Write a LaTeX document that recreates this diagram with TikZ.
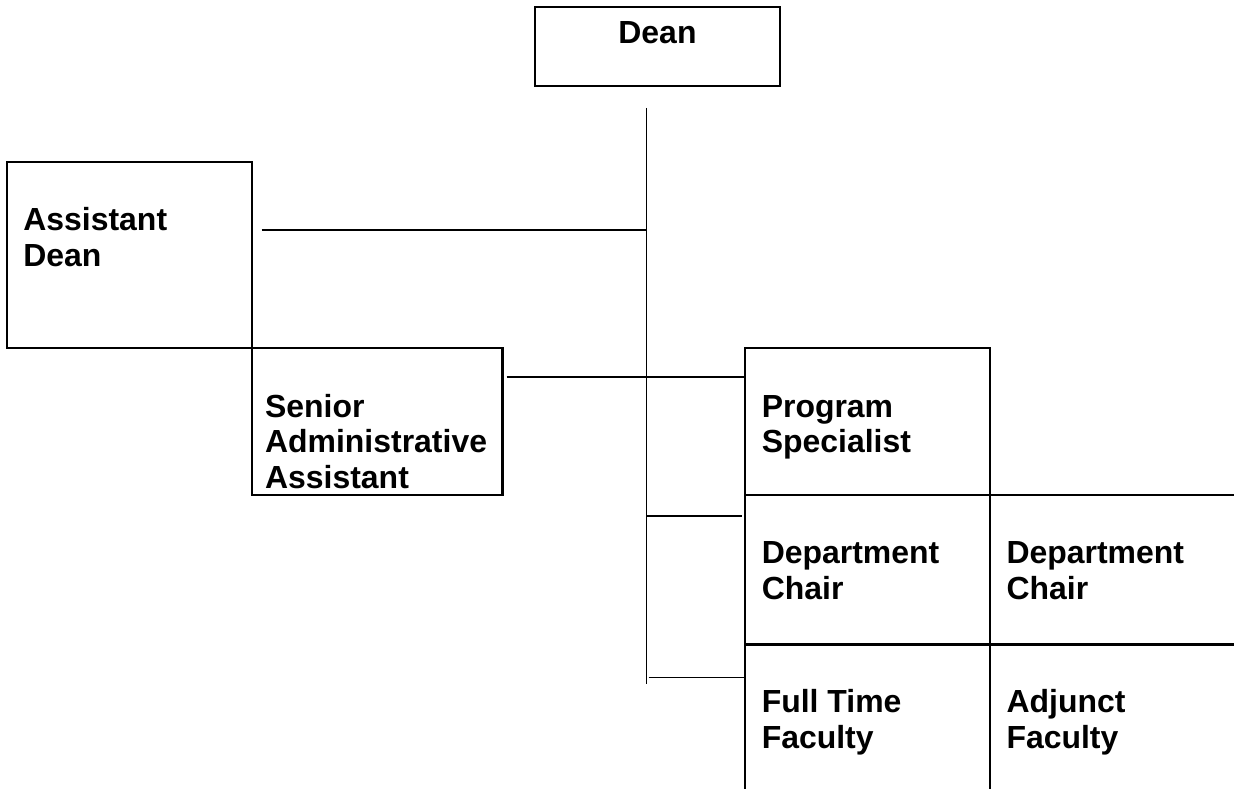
\documentclass[tikz,border=0pt]{standalone}
\usepackage{fontspec}
\setmainfont{Liberation Sans}
\usepackage{tikz}
\usetikzlibrary{positioning}
\tikzset{box/.style={draw,line width=1.2pt,anchor=north west,outer sep=0pt,inner sep=0pt},
    cell/.style={anchor=north west,outer sep=0pt,inner sep=0pt},
    title/.style={align=left,inner sep=0pt,
        font=\bfseries\fontsize{18.2pt}{20.4pt}\selectfont},
    link/.style={line width=1.1pt}}

\begin{document}
\begin{tikzpicture}[x=0.02cm,y=-0.02cm]
    \path[fill=white] (0,0) rectangle (1235,790);
    % boxes
    \node[box,minimum width=4.92cm,minimum height=1.58cm] (dean) at (535,7) {};
    \node[box,minimum width=4.9cm,minimum height=3.72cm] (asst) at (7,162) {};
    \node[box,minimum width=5.02cm,minimum height=2.94cm] (senior) at (asst.south east) {};
    \node[box,minimum width=4.9cm,minimum height=2.94cm] (prog) at (746,348) {};
    \node[box,minimum width=4.9cm,minimum height=3cm] (chairA) at (prog.south west) {};
    \node[cell,minimum width=4.88cm,minimum height=3cm] (chairB) at (chairA.north east) {};
    \node[cell,minimum width=4.9cm,minimum height=2.9cm] (full) at (chairA.south west) {};
    \node[cell,minimum width=4.88cm,minimum height=2.9cm] (adj) at (full.north east) {};
    \draw[line width=1.2pt] (chairA.north east) -- (chairB.north east)
        (chairA.south east) -- (chairB.south east)
        (full.north west) -- (full.south west)
        (full.north east) -- (full.south east);
    % titles
    \node[title,below=0.28cm of dean.north] (deanT) {Dean};
    \node[title,below right=0.9cm and 0.32cm of asst.north west] (asstT) {Assistant\\Dean};
    \node[title,below right=0.92cm and 0.26cm of senior.north west] (seniorT) {Senior\\Administrative\\Assistant};
    \node[title,below right=0.94cm and 0.32cm of prog.north west] (progT) {Program\\Specialist};
    \node[title,below right=0.94cm and 0.32cm of chairA.north west] (chairAT) {Department\\Chair};
    \node[title,below right=0.94cm and 0.32cm of chairB.north west] (chairBT) {Department\\Chair};
    \node[title,below right=0.9cm and 0.32cm of full.north west] (fullT) {Full Time\\Faculty};
    \node[title,below right=0.9cm and 0.32cm of adj.north west] (adjT) {Adjunct\\Faculty};
    % connectors
    \coordinate (ttop) at (647,108);
    \coordinate (tend) at (647,685);
    \coordinate (jA) at (647,230);
    \coordinate (jS) at (647,377);
    \coordinate (jC) at (647,516);
    \coordinate (jF) at (649,678);
    \draw[link] (ttop) -- (tend);
    \draw[link,shorten <=0.2cm] (asst.east |- jA) -- (jA);
    \draw[link,shorten <=0.08cm] (senior.east |- jS) -- (prog.west |- jS);
    \draw[link,shorten >=0.06cm] (jC) -- (chairA.west |- jC);
    \draw[link] (jF) -- (full.west |- jF);
\end{tikzpicture}
\end{document}
